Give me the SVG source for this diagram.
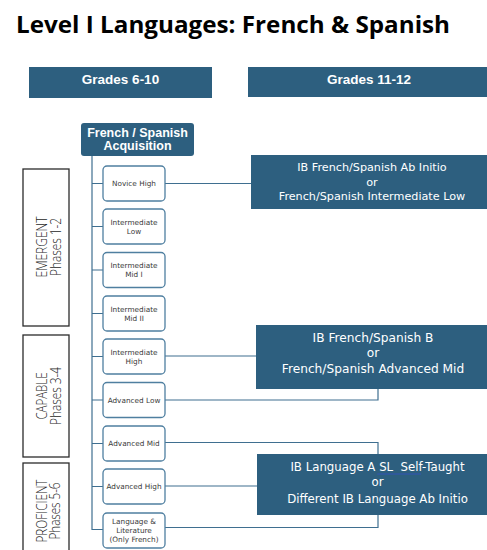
<svg xmlns="http://www.w3.org/2000/svg" width="487" height="550" viewBox="0 0 487 550">
<style>
  .hdr { fill:#2D5F7F; }
  .hdrtxt { font-family:"Liberation Sans", Arial, sans-serif; font-weight:700; fill:#FFFFFF; text-anchor:middle; }
  .child rect { fill:#FFFFFF; stroke:#4F7FA0; stroke-width:1.3; }
  .child text { font-family:"DejaVu Sans", sans-serif; font-size:7.3px; fill:#3A3A3A; text-anchor:middle; }
  .phase rect { fill:#FFFFFF; stroke:#2B2B2B; stroke-width:1.3; }
  .phase text { font-family:"Open Sans", "Liberation Sans", sans-serif; font-weight:300; font-size:15px; fill:#1E1E1E; text-anchor:middle; }
  .out text { font-family:"DejaVu Sans", sans-serif; fill:#FFFFFF; text-anchor:middle; white-space:pre; }
  .conn { fill:none; stroke:#3F6F90; stroke-width:1.2; }
</style>

<text x="16" y="33" font-family="'Open Sans', 'Liberation Sans', sans-serif" font-weight="700" font-size="22.5" fill="#000000" textLength="434" lengthAdjust="spacingAndGlyphs">Level I Languages: French &amp; Spanish</text>

<g id="hdr-grades-6-10">
  <rect class="hdr" x="29" y="67" width="183" height="31"/>
  <text class="hdrtxt" x="120.5" y="84" font-size="13.5">Grades 6-10</text>
</g>
<g id="hdr-grades-11-12">
  <rect class="hdr" x="248" y="67" width="242" height="30"/>
  <text class="hdrtxt" x="369" y="84" font-size="13.5">Grades 11-12</text>
</g>

<g id="connectors">
  <path class="conn" d="M92,156 V529.5 H103"/>
  <path class="conn" d="M92,183.5 H103 M92,226.5 H103 M92,270 H103 M92,313.5 H103 M92,356.5 H103 M92,400 H103 M92,443.5 H103 M92,486.5 H103"/>
  <path class="conn" d="M165,183.5 H251"/>
  <path class="conn" d="M165,356 H256"/>
  <path class="conn" d="M165,400 H378 V389"/>
  <path class="conn" d="M165,442.5 H378 V454"/>
  <path class="conn" d="M165,486 H257"/>
  <path class="conn" d="M165,527.5 H378 V515"/>
</g>

<g id="acquisition">
  <rect class="hdr" x="81" y="123" width="113" height="33" rx="3"/>
  <text class="hdrtxt" x="137.5" y="137" font-size="12.5">French / Spanish</text>
  <text class="hdrtxt" x="137.5" y="150" font-size="12.5">Acquisition</text>
</g>

<g id="novice-high" class="child">
  <rect x="103" y="166" width="62" height="35" rx="4"/>
  <text x="134" y="186.1">Novice High</text>
</g>
<g id="intermediate-low" class="child">
  <rect x="103" y="209" width="62" height="35" rx="4"/>
  <text x="134" y="224.6">Intermediate</text>
  <text x="134" y="233.6">Low</text>
</g>
<g id="intermediate-mid-1" class="child">
  <rect x="103" y="252.5" width="62" height="35" rx="4"/>
  <text x="134" y="268.1">Intermediate</text>
  <text x="134" y="277.1">Mid I</text>
</g>
<g id="intermediate-mid-2" class="child">
  <rect x="103" y="296" width="62" height="35" rx="4"/>
  <text x="134" y="311.6">Intermediate</text>
  <text x="134" y="320.6">Mid II</text>
</g>
<g id="intermediate-high" class="child">
  <rect x="103" y="339" width="62" height="35" rx="4"/>
  <text x="134" y="354.6">Intermediate</text>
  <text x="134" y="363.6">High</text>
</g>
<g id="advanced-low" class="child">
  <rect x="103" y="382.5" width="62" height="35" rx="4"/>
  <text x="134" y="402.6">Advanced Low</text>
</g>
<g id="advanced-mid" class="child">
  <rect x="103" y="426" width="62" height="35" rx="4"/>
  <text x="134" y="446.1">Advanced Mid</text>
</g>
<g id="advanced-high" class="child">
  <rect x="103" y="469" width="62" height="35" rx="4"/>
  <text x="134" y="489.1">Advanced High</text>
</g>
<g id="language-literature" class="child">
  <rect x="103" y="513" width="62" height="35" rx="4"/>
  <text x="134" y="523.6">Language &amp;</text>
  <text x="134" y="532.6">Literature</text>
  <text x="134" y="541.6">(Only French)</text>
</g>

<g id="phase-emergent" class="phase">
  <rect x="23" y="169" width="46" height="157"/>
  <text transform="translate(47,247) rotate(-90)" textLength="61" lengthAdjust="spacingAndGlyphs">EMERGENT</text>
  <text transform="translate(60.5,247) rotate(-90)" textLength="58" lengthAdjust="spacingAndGlyphs">Phases 1-2</text>
</g>
<g id="phase-capable" class="phase">
  <rect x="23" y="335" width="46" height="122"/>
  <text transform="translate(47,396) rotate(-90)" textLength="47" lengthAdjust="spacingAndGlyphs">CAPABLE</text>
  <text transform="translate(60.5,396) rotate(-90)" textLength="58" lengthAdjust="spacingAndGlyphs">Phases 3-4</text>
</g>
<g id="phase-proficient" class="phase">
  <rect x="23" y="463" width="46" height="100"/>
  <text transform="translate(46.5,511) rotate(-90)" textLength="63" lengthAdjust="spacingAndGlyphs">PROFICIENT</text>
  <text transform="translate(60,511) rotate(-90)" textLength="57" lengthAdjust="spacingAndGlyphs">Phases 5-6</text>
</g>

<g id="ib-ab-initio" class="out">
  <rect class="hdr" x="251" y="155" width="238" height="54"/>
  <text x="372" y="171" font-size="11.2">IB French/Spanish Ab Initio</text>
  <text x="372" y="185.5" font-size="11.2">or</text>
  <text x="372" y="199.5" font-size="11.2">French/Spanish Intermediate Low</text>
</g>
<g id="ib-b" class="out">
  <rect class="hdr" x="256" y="325" width="234" height="64"/>
  <text x="373" y="341.5" font-size="12.2">IB French/Spanish B</text>
  <text x="373" y="357" font-size="12.2">or</text>
  <text x="373" y="373" font-size="12.2">French/Spanish Advanced Mid</text>
</g>
<g id="ib-language-a" class="out">
  <rect class="hdr" x="257" y="454" width="233" height="61"/>
  <text x="377.5" y="470.5" font-size="11.75">IB Language A SL  Self-Taught</text>
  <line x1="377.3" y1="474" x2="421" y2="474" stroke="#3355B5" stroke-width="1"/>
  <text x="377.5" y="486" font-size="11.75">or</text>
  <text x="377.5" y="502.5" font-size="11.75">Different IB Language Ab Initio</text>
</g>
</svg>
